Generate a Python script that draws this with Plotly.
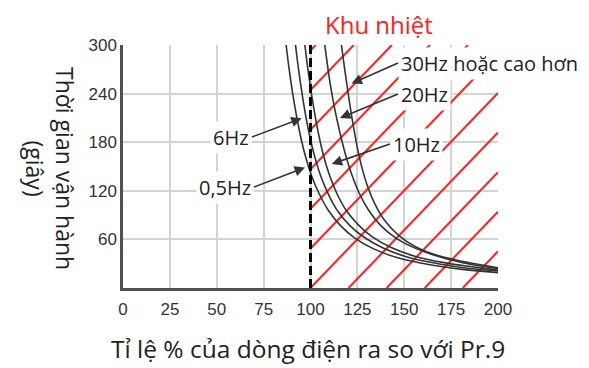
import plotly.graph_objects as go

# ---------------- data ----------------
x_ticks = [0, 25, 50, 75, 100, 125, 150, 175, 200]
y_ticks = [60, 120, 180, 240, 300]

curve_names = ["0,5Hz", "6Hz", "10Hz", "20Hz", "30Hz hoặc cao hơn"]
c05_x = [87, 88.5, 90.5, 92.5, 95, 97.5, 100.5, 104.5, 109.5, 116, 124, 134, 147, 163, 181, 200]
c05_y = [300, 272, 240, 213, 184, 161, 139, 117, 96, 77, 61, 48, 37, 29, 23, 19]
c6_x = [92, 93.5, 95.5, 97.5, 100, 102.5, 105.5, 109.5, 114.5, 121, 129, 139, 152, 168, 185, 200]
c6_y = [300, 272, 240, 212, 183, 160, 138, 116, 95, 77, 62, 49, 38, 30, 24, 21]
c10_x = [97, 98.5, 100.5, 102.5, 104.5, 107, 110, 114, 119, 125.5, 133, 143, 156, 172, 187, 200]
c10_y = [300, 272, 240, 212, 188, 163, 140, 117, 96, 78, 63, 50, 39, 31, 26, 22]
c20_x = [107.6, 109, 110.5, 112.5, 114.5, 116.5, 119, 122, 126, 131, 137.5, 146, 157, 171, 186, 200]
c20_y = [300, 276, 252, 226, 204, 184, 162, 140, 117, 96, 77, 61, 48, 37, 29, 24]
c30_x = [116.5, 118, 119.5, 121, 123, 125, 127.5, 130.5, 134.5, 140, 147, 156, 168, 183, 200]
c30_y = [300, 274, 250, 226, 198, 173, 148, 125, 103, 82, 65, 51, 40, 32, 25]

limit_x = 100          # thermal zone boundary (%)
y_max = 300
x_max = 200

# ---------------- figure geometry ----------------
W, H = 589, 368
ML, MR, MT, MB = 123, 91, 45, 80
PW = W - ML - MR
PH = H - MT - MB


def px2x(px):
    return (px - ML) / PW * x_max


def py2y(py):
    return (MT + PH - py) / PH * y_max


def px2paper(px):
    return (px - ML) / PW


def py2paper(py):
    return (MT + PH - py) / PH


fig = go.Figure()

# hatch of the thermal zone (red diagonal lines)
slope = (PW / x_max) / (PH / y_max) * 1.04
spacing = 20.3
starts = []
b = limit_x
while b > limit_x - y_max / slope:
    starts.append(b)
    b -= spacing
b = limit_x + spacing
while b < x_max:
    starts.append(b)
    b += spacing
hx, hy = [], []
for b in starts:
    if b >= limit_x:
        x0, y0 = b, 0
    else:
        x0, y0 = limit_x, slope * (limit_x - b)
    xt = b + y_max / slope
    if xt <= x_max:
        x1, y1 = xt, y_max
    else:
        x1, y1 = x_max, slope * (x_max - b)
    hx += [x0, x1, None]
    hy += [y0, y1, None]
fig.add_trace(go.Scatter(x=hx, y=hy, mode="lines",
                         line=dict(color="#ff2424", width=2.1),
                         hoverinfo="skip", showlegend=False))

# curves
for cx, cy in [(c05_x, c05_y), (c6_x, c6_y), (c10_x, c10_y),
               (c20_x, c20_y), (c30_x, c30_y)]:
    fig.add_trace(go.Scatter(x=cx, y=cy, mode="lines",
                             line=dict(color="#333333", width=1.6,
                                       shape="spline", smoothing=1.0),
                             showlegend=False))

# dashed boundary line
fig.add_trace(go.Scatter(x=[limit_x, limit_x], y=[0, y_max], mode="lines",
                         line=dict(color="#000000", width=3, dash="9px,4px"),
                         showlegend=False))

FAM = "Open Sans, Noto Sans, sans-serif"
text_font = dict(family=FAM, size=20, color="#222222")

ann = []
# arrow labels: (text, tip px, tip py, tail px, tail py, anchor)
arrow_specs = [
    ("30Hz hoặc cao hơn", 351.5, 83.5, 398, 63, "left"),
    ("20Hz", 340, 118, 398, 94, "left"),
    ("10Hz", 331.7, 164, 390, 144, "left"),
    ("6Hz", 301.7, 118.3, 252, 137, "right"),
    ("0,5Hz", 305, 167.5, 254, 187, "right"),
]
for t, tx, ty, ax_, ay_, anc in arrow_specs:
    ann.append(dict(text=t, x=px2x(tx), y=py2y(ty), xref="x", yref="y",
                    ax=px2x(ax_), ay=py2y(ay_), axref="x", ayref="y",
                    showarrow=True, arrowhead=2, arrowsize=1.3,
                    arrowwidth=1.6, arrowcolor="#333333", standoff=0,
                    xanchor=anc, yanchor="middle",
                    bgcolor="white", borderpad=2, font=text_font))

ann.append(dict(text="Khu nhiệt", x=px2paper(379), y=py2paper(24),
                xref="paper", yref="paper", showarrow=False,
                xanchor="center", yanchor="middle",
                font=dict(family=FAM, size=24, color="#ff2020")))
ann.append(dict(text="Tỉ lệ % của dòng điện ra so với Pr.9",
                x=px2paper(307.5), y=py2paper(348), xref="paper",
                yref="paper", showarrow=False, xanchor="center",
                yanchor="middle",
                font=dict(family=FAM, size=24.5, color="#222222")))
ann.append(dict(text="Thời gian vận hành<br>(giây)", x=px2paper(50),
                y=py2paper(168), xref="paper", yref="paper",
                showarrow=False, textangle=90, xanchor="center",
                yanchor="middle",
                font=dict(family=FAM, size=23, color="#222222")))

tick_font = dict(family="Liberation Sans, Arial, sans-serif", size=17,
                 color="#333333")

fig.update_layout(
    width=W, height=H,
    margin=dict(l=ML, r=MR, t=MT, b=MB),
    paper_bgcolor="white", plot_bgcolor="white",
    showlegend=False,
    annotations=ann,
    xaxis=dict(range=[0, x_max], tickvals=x_ticks,
               ticktext=[str(v) for v in x_ticks],
               showgrid=True, gridcolor="#d4d4d4", gridwidth=1.5,
               showline=True, linecolor="#505050", linewidth=2.5,
               zeroline=False, ticks="", tickfont=tick_font,
               ticklabelstandoff=4, fixedrange=True),
    yaxis=dict(range=[0, y_max], tickvals=y_ticks,
               ticktext=[str(v) for v in y_ticks],
               showgrid=True, gridcolor="#d4d4d4", gridwidth=1.5,
               showline=True, linecolor="#505050", linewidth=2.5,
               zeroline=False, ticks="", tickfont=tick_font,
               ticklabelstandoff=0, fixedrange=True),
)

fig.write_html("out.html",
               config={"displayModeBar": False},
               post_script="document.body.style.margin='0px';"
                           "document.body.style.padding='0px';")
